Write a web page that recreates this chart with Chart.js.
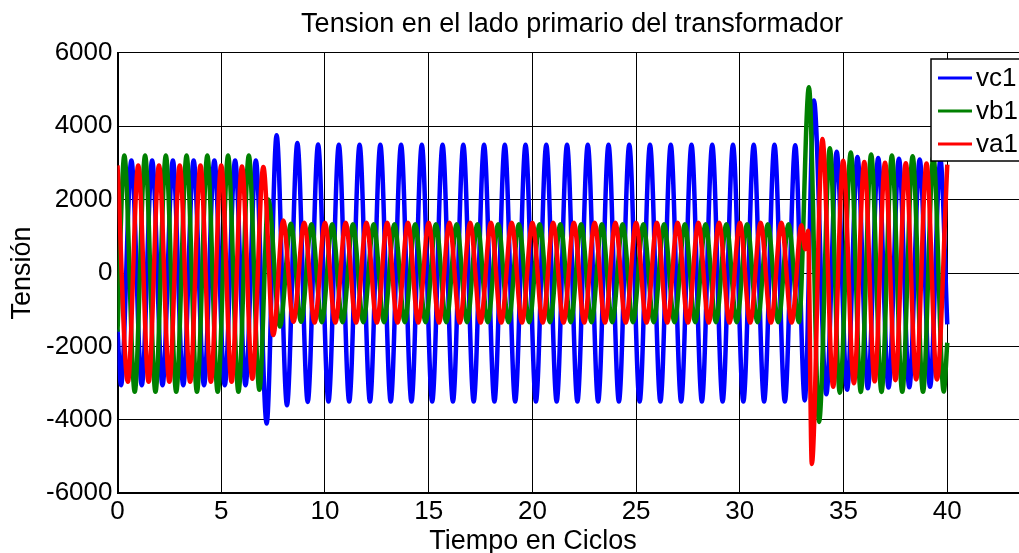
<!DOCTYPE html>
<html>
<head>
<meta charset="utf-8">
<title>Tension en el lado primario del transformador</title>
<script src="https://cdn.jsdelivr.net/npm/chart.js@4.4.1/dist/chart.umd.min.js"></script>
<style>
  html, body { margin: 0; padding: 0; background: #fff; overflow: hidden; }
  #wrap { width: 1019px; height: 553px; overflow: hidden; }
  canvas { display: block; }
</style>
</head>
<body>
<div id="wrap"><canvas id="chart" width="1071" height="553"></canvas></div>
<script>
// axis ticks
const xTicks = [0, 5, 10, 15, 20, 25, 30, 35, 40];
const yTicks = [-6000, -4000, -2000, 0, 2000, 4000, 6000];

// peaks and troughs: [ciclo, tension]
const vc1 = [
  [0,-1540],[0.17,-3055],[0.67,3065],[1.17,-3055],[1.67,3065],[2.17,-3055],[2.67,3065],
  [3.17,-3055],[3.67,3065],[4.17,-3055],[4.67,3065],[5.17,-3055],[5.67,3065],[6.17,-3060],[6.67,3065],
  [7.19,-4100],[7.67,3750],[8.17,-3600],[8.67,3540],[9.17,-3510],[9.67,3500],
  [10.17,-3500],[10.67,3490],[11.17,-3500],[11.67,3490],[12.17,-3500],[12.67,3490],[13.17,-3500],[13.67,3490],
  [14.17,-3500],[14.67,3490],[15.17,-3500],[15.67,3490],[16.17,-3500],[16.67,3490],[17.17,-3500],[17.67,3490],
  [18.17,-3500],[18.67,3490],[19.17,-3500],[19.67,3490],[20.17,-3500],[20.67,3490],[21.17,-3500],[21.67,3490],
  [22.17,-3500],[22.67,3490],[23.17,-3500],[23.67,3490],[24.17,-3500],[24.67,3490],[25.17,-3500],[25.67,3490],
  [26.17,-3500],[26.67,3490],[27.17,-3500],[27.67,3490],[28.17,-3500],[28.67,3490],[29.17,-3500],[29.67,3490],
  [30.17,-3500],[30.67,3490],[31.17,-3500],[31.67,3490],[32.17,-3500],[32.67,3480],
  [33.13,-3470],[33.57,4700],[34.17,-3300],[34.67,3300],[35.17,-3180],[35.67,3160],[36.17,-3140],[36.67,3130],
  [37.17,-3120],[37.67,3110],[38.17,-3110],[38.67,3090],[39.17,-3100],[39.67,3080],[40,-1400]
];
const vb1 = [
  [0,-1600],[0.33,3200],[0.83,-3235],[1.33,3200],[1.83,-3235],[2.33,3200],[2.83,-3235],[3.33,3200],[3.83,-3235],
  [4.33,3200],[4.83,-3235],[5.33,3200],[5.83,-3235],[6.33,3200],[6.84,-3180],
  [7.27,2000],[7.83,-1460],[8.36,1340],[8.85,-1330],[9.35,1330],[9.85,-1340],
  [10.35,1330],[10.85,-1340],[11.35,1330],[11.85,-1340],[12.35,1330],[12.85,-1340],[13.35,1330],[13.85,-1340],
  [14.35,1330],[14.85,-1340],[15.35,1330],[15.85,-1340],[16.35,1330],[16.85,-1340],[17.35,1330],[17.85,-1340],
  [18.35,1330],[18.85,-1340],[19.35,1330],[19.85,-1340],[20.35,1330],[20.85,-1340],[21.35,1330],[21.85,-1340],
  [22.35,1330],[22.85,-1340],[23.35,1330],[23.85,-1340],[24.35,1330],[24.85,-1340],[25.35,1330],[25.85,-1340],
  [26.35,1330],[26.85,-1340],[27.35,1330],[27.85,-1340],[28.35,1330],[28.85,-1340],[29.35,1330],[29.85,-1340],
  [30.35,1330],[30.85,-1340],[31.35,1330],[31.85,-1340],[32.35,1330],[32.85,-1340],
  [33.33,5060],[33.82,-4055],[34.34,3400],[34.82,-3260],[35.35,3280],[35.83,-3240],[36.33,3230],[36.83,-3240],
  [37.33,3200],[37.83,-3235],[38.33,3180],[38.83,-3235],[39.33,3170],[39.83,-3230],[40,-1900]
];
const va1 = [
  [0,2930],[0.5,-2965],[1,2930],[1.5,-2965],[2,2930],[2.5,-2965],[3,2930],[3.5,-2965],[4,2930],[4.5,-2965],
  [5,2930],[5.5,-2965],[6,2900],[6.5,-2880],[7.03,2890],
  [7.51,-1690],[7.99,1430],[8.48,-1330],[9,1370],[9.5,-1350],
  [10,1370],[10.5,-1350],[11,1370],[11.5,-1350],[12,1370],[12.5,-1350],[13,1370],[13.5,-1350],
  [14,1370],[14.5,-1350],[15,1370],[15.5,-1350],[16,1370],[16.5,-1350],[17,1370],[17.5,-1350],
  [18,1370],[18.5,-1350],[19,1370],[19.5,-1350],[20,1370],[20.5,-1350],[21,1370],[21.5,-1350],
  [22,1370],[22.5,-1350],[23,1370],[23.5,-1350],[24,1370],[24.5,-1350],[25,1370],[25.5,-1350],
  [26,1370],[26.5,-1350],[27,1370],[27.5,-1350],[28,1370],[28.5,-1350],[29,1370],[29.5,-1350],
  [30,1370],[30.5,-1350],[31,1370],[31.5,-1350],[32,1370],[32.5,-1350],
  [32.97,1300],[33.15,650],[33.29,1150],[33.47,-5200],[33.98,3650],[34.5,-3100],[34.98,3060],[35.5,-3000],
  [36,3020],[36.5,-2950],[37,3000],[37.5,-2920],[38,2990],[38.5,-2900],[39,2980],[39.5,-2900],[40,2950]
];

const seriesLabels = ['vc1', 'vb1', 'va1'];
const seriesData = [vc1, vb1, va1];
const seriesColors = ['#0000ff', '#008000', '#ff0000'];

const chartTitle = 'Tension en el lado primario del transformador';
const xLabel = 'Tiempo en Ciclos';
const yLabel = 'Tensión';

const fontFamily = '"Liberation Sans", Arial, Helvetica, sans-serif';
Chart.defaults.font.family = fontFamily;
Chart.defaults.color = '#000';

// title, xlabel and the boxed legend, drawn over the plot like matlab does
const matlabDecor = {
    id: 'matlabDecor',
    afterDraw(chart) {
        const ctx = chart.ctx;
        ctx.save();
        ctx.fillStyle = '#000';
        ctx.font = '27px ' + fontFamily;
        ctx.textAlign = 'center';
        ctx.textBaseline = 'alphabetic';
        ctx.fillText(chartTitle, 572, 32);
        ctx.fillText(xLabel, 533, 549);

        // legend box
        ctx.fillStyle = '#fff';
        ctx.fillRect(931, 59, 110, 102);
        ctx.strokeStyle = '#000';
        ctx.lineWidth = 1.5;
        ctx.strokeRect(931, 59, 110, 102);
        ctx.font = '26px ' + fontFamily;
        ctx.textAlign = 'left';
        ctx.textBaseline = 'middle';
        chart.data.datasets.forEach((ds, i) => {
            const y = 78 + i * 33;
            ctx.strokeStyle = ds.borderColor;
            ctx.lineWidth = 3;
            ctx.beginPath();
            ctx.moveTo(938, y);
            ctx.lineTo(972, y);
            ctx.stroke();
            ctx.fillStyle = '#000';
            ctx.fillText(ds.label, 976, y + 1);
        });
        ctx.restore();
    }
};

const ctx = document.getElementById('chart').getContext('2d');
const config = {
    type: 'line',
    data: {
        datasets: seriesData.map((pts, i) => ({
            label: seriesLabels[i],
            data: pts.map(p => ({ x: p[0], y: p[1] })),
            borderColor: seriesColors[i],
            backgroundColor: seriesColors[i],
            borderWidth: 4.5,
            pointRadius: 0,
            fill: false,
            cubicInterpolationMode: 'monotone',
            order: seriesData.length - 1 - i // va1 on top
        }))
    },
    options: {
        responsive: false,
        animation: false,
        events: [],
        layout: { padding: { left: 0, right: 20, top: 52.7, bottom: 0 } },
        plugins: {
            legend: { display: false },
            title: { display: false },
            tooltip: { enabled: false }
        },
        scales: {
            x: {
                type: 'linear',
                min: 0,
                max: 45,
                afterBuildTicks: s => { s.ticks = xTicks.map(v => ({ value: v })); },
                afterFit: s => { s.height = 59.7; },
                grid: { color: '#000', lineWidth: 1, drawTicks: false },
                border: { color: '#000', width: 2 },
                ticks: { padding: 3, maxRotation: 0, autoSkip: false, font: { size: 26 }, color: '#000',
                         callback: v => String(v) }
            },
            y: {
                min: -6000,
                max: 6000,
                afterBuildTicks: s => { s.ticks = yTicks.map(v => ({ value: v })); },
                afterFit: s => { s.width = 117.5; },
                grid: { color: '#000', lineWidth: 1, drawTicks: false },
                border: { color: '#000', width: 2 },
                ticks: { padding: 5, font: { size: 26 }, color: '#000', callback: v => String(v) },
                title: { display: true, text: yLabel, font: { size: 27 }, color: '#000', padding: { top: 6, bottom: 0 } }
            }
        }
    },
    plugins: [matlabDecor]
};

new Chart(ctx, config);
</script>
</body>
</html>
